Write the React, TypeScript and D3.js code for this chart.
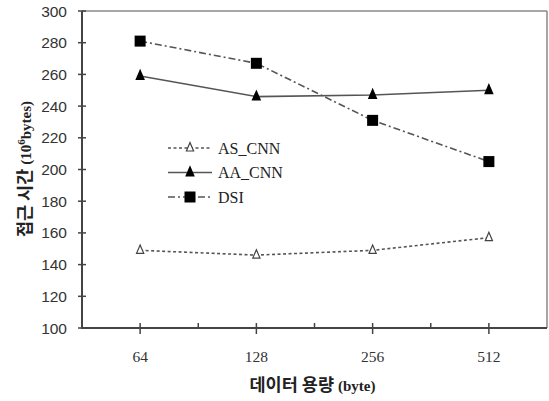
import React from "react";
import * as d3 from "d3";

const categories = ["64", "128", "256", "512"];
const asCnn = [149, 146, 149, 157];
const aaCnn = [259, 246, 247, 250];
const dsi = [281, 267, 231, 205];
const yTicks = [100, 120, 140, 160, 180, 200, 220, 240, 260, 280, 300];

const W = 549, H = 401;
const L = 82, R = 547, T = 11, B = 328;

export default function App() {
  const x = d3.scaleLinear().domain([0, categories.length * 2]).range([L, R]);
  const y = d3.scaleLinear().domain([100, 300]).range([B, T]);
  const cx = (i: number) => x(2 * i + 1);
  const line = d3.line<number>().x((_, i) => cx(i)).y((d) => y(d));
  const gray = "#555";
  const tri = (px: number, py: number, s: number) =>
    `M${px},${py - s * 0.9} L${px + s * 0.6},${py + s * 0.5} L${px - s * 0.6},${py + s * 0.5} Z`;
  const series = [
    { name: "AS_CNN", data: asCnn, dash: "3,2.5", marker: "tri-open" },
    { name: "AA_CNN", data: aaCnn, dash: "", marker: "tri" },
    { name: "DSI", data: dsi, dash: "7,3,2,3", marker: "sq" },
  ];
  const marker = (m: string, px: number, py: number, k: string) => {
    if (m === "tri-open")
      return <path key={k} d={tri(px, py, 6)} fill="#fff" stroke="#444" strokeWidth={1.2} />;
    if (m === "tri") return <path key={k} d={tri(px, py, 8)} fill="#000" />;
    return <rect key={k} x={px - 5.5} y={py - 5.5} width={11} height={11} fill="#000" />;
  };
  const midTicks = d3.range(0, categories.length * 2 + 1, 2).slice(1, -1);
  return (
    <svg width={W} height={H} style={{ position: "absolute", left: 0, top: 0, background: "#fff" }}>
      <rect x={0} y={0} width={W} height={H} fill="#fff" />
      <line x1={L} x2={R} y1={T} y2={T} stroke="#888" strokeWidth={1.5} />
      <line x1={R} x2={R} y1={T} y2={B} stroke="#888" strokeWidth={1.5} />
      <line x1={L} x2={L} y1={T} y2={B + 1} stroke="#444" strokeWidth={2} />
      <line x1={L - 1} x2={R} y1={B} y2={B} stroke="#444" strokeWidth={2} />
      {yTicks.map((t) => (
        <g key={t}>
          <line x1={L - 4} x2={L + 4} y1={y(t)} y2={y(t)} stroke="#444" strokeWidth={1.5} />
          <text x={L - 15} y={y(t)} dy="0.36em" textAnchor="end" fontFamily="Liberation Sans, Arial, sans-serif" fontSize={15.5} fill="#333">
            {t}
          </text>
        </g>
      ))}
      {categories.map((c, i) => (
        <g key={c}>
          <line x1={cx(i)} x2={cx(i)} y1={B - 5} y2={B + 6} stroke="#444" strokeWidth={1.5} />
          <text x={cx(i)} y={362} textAnchor="middle" fontFamily="Liberation Serif, Times New Roman, serif" fontSize={15.5} fill="#333">
            {c}
          </text>
        </g>
      ))}
      {midTicks.map((t) => (
        <line key={t} x1={x(t)} x2={x(t)} y1={B - 5} y2={B} stroke="#444" strokeWidth={1.5} />
      ))}
      {series.map((s) => (
        <g key={s.name}>
          <path d={line(s.data) || ""} fill="none" stroke={gray} strokeWidth={1.6} strokeDasharray={s.dash || undefined} />
          {s.data.map((d, i) => marker(s.marker, cx(i), y(d), s.name + i))}
        </g>
      ))}
      {series.map((s, i) => {
        const ly = 148 + i * 24.5;
        return (
          <g key={"lg" + s.name}>
            <line x1={168} x2={212} y1={ly} y2={ly} stroke={gray} strokeWidth={1.6} strokeDasharray={s.dash || undefined} />
            {marker(s.marker, 190, ly, "lm" + i)}
            <text x={218} y={ly} dy="0.35em" fontFamily="Liberation Serif, Times New Roman, serif" fontSize={16} fill="#222">
              {s.name}
            </text>
          </g>
        );
      })}
      <text x={(L + R) / 2 - 2} y={391} textAnchor="middle" fill="#222">
        <tspan fontFamily="Noto Sans CJK KR, sans-serif" fontWeight="bold" fontSize={17.5}>데이터 용량 </tspan>
        <tspan fontFamily="Liberation Serif, serif" fontWeight="bold" fontSize={15}>(byte)</tspan>
      </text>
      <text transform={`translate(31,169) rotate(-90)`} textAnchor="middle" fill="#222">
        <tspan fontFamily="Noto Sans CJK KR, sans-serif" fontWeight="bold" fontSize={17.5}>접근 시간 </tspan>
        <tspan fontFamily="Liberation Serif, serif" fontWeight="bold" fontSize={15}>(10</tspan>
        <tspan fontFamily="Liberation Serif, serif" fontWeight="bold" fontSize={11} dy={-6}>6</tspan>
        <tspan fontFamily="Liberation Serif, serif" fontWeight="bold" fontSize={15} dy={6}>bytes)</tspan>
      </text>
    </svg>
  );
}
